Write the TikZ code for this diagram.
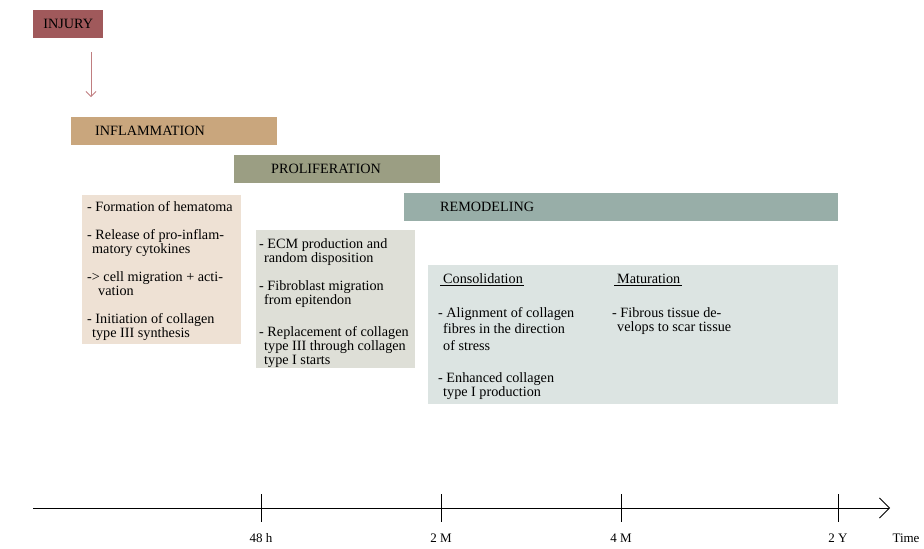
\documentclass[tikz,border=0pt]{standalone}
\usepackage{fontspec}
\setmainfont{Liberation Serif}
\usetikzlibrary{arrows.meta}
\definecolor{injc}{HTML}{A0595B}
\definecolor{inflc}{HTML}{C9A67D}
\definecolor{prolc}{HTML}{9B9E83}
\definecolor{remoc}{HTML}{98AEA8}
\definecolor{inflbg}{HTML}{EEE1D4}
\definecolor{prolbg}{HTML}{DEDFD7}
\definecolor{remobg}{HTML}{DCE4E2}
\definecolor{arrc}{HTML}{C07E80}
\begin{document}
\begin{tikzpicture}[x=1pt,y=-1pt,
  every node/.style={font=\fontsize{14.2}{14}\selectfont, inner sep=0pt, text=black},
  rectbox/.style={anchor=north west, minimum width=#1, draw=none},
  phaselabel/.style={anchor=west},
  content/.style={anchor=north west, align=left},
  tick/.style={line width=0.8pt, black},
  ticklabel/.style={anchor=base, font=\fontsize{13}{14}\selectfont}
]
\useasboundingbox (0,0) rectangle (924,549);

% INJURY
\node[rectbox=70pt, minimum height=28pt, fill=injc] (injury) at (33,10) {};
\node (injurytxt) at (injury.center) {INJURY};
\coordinate (arrS) at (91,52);
\coordinate (arrE) at (91,97);
\draw[arrc, line width=0.8pt, -{Straight Barb[length=5pt,width=10pt]}] (arrS) -- (arrE);

% phase bars
\node[rectbox=206pt, minimum height=28pt, fill=inflc] (infl) at (71,117) {};
\node[phaselabel] (infltxt) at (95,131) {INFLAMMATION};
\node[rectbox=206pt, minimum height=28pt, fill=prolc] (prol) at (234,155) {};
\node[phaselabel] (proltxt) at (271,169) {PROLIFERATION};
\node[rectbox=434pt, minimum height=28pt, fill=remoc] (remo) at (404,193) {};
\node[phaselabel] (remotxt) at (440,207) {REMODELING};

% content boxes
\node[rectbox=159pt, minimum height=149pt, fill=inflbg] (inflbox) at (82,195) {};
\node[content] (infltext) at (87,201) {- Formation of hematoma\\[14pt]
- Release of pro-inflam-\\
\hspace*{5pt}matory cytokines\\[14pt]
-> cell migration + acti-\\
\hspace*{11pt}vation\\[14pt]
- Initiation of collagen\\
\hspace*{5pt}type III synthesis};

\node[rectbox=159pt, minimum height=138pt, fill=prolbg] (prolbox) at (256,230) {};
\node[content] (proltext) at (259,238) {- ECM production and\\
\hspace*{5pt}random disposition\\[14pt]
- Fibroblast migration\\
\hspace*{5pt}from epitendon\\[18pt]
- Replacement of collagen\\
\hspace*{5pt}type III through collagen\\
\hspace*{5pt}type I starts};

\node[rectbox=410pt, minimum height=139pt, fill=remobg] (remobox) at (428,265) {};
\node[anchor=base west] (cons) at (443,283) {Consolidation};
\draw[line width=0.6pt] ([xshift=-3pt,yshift=-2.5pt]cons.base west) -- ([xshift=1pt,yshift=-2.5pt]cons.base east);
\node[anchor=base west] (matu) at (617,283) {Maturation};
\draw[line width=0.6pt] ([xshift=-3pt,yshift=-2.5pt]matu.base west) -- ([xshift=1pt,yshift=-2.5pt]matu.base east);
\node[content] (constext) at (438,307) {- Alignment of collagen\\[2.5pt]
\hspace*{5pt}fibres in the direction\\[2.5pt]
\hspace*{5pt}of stress\\[18pt]
- Enhanced collagen\\
\hspace*{5pt}type I production};
\node[content] (matutext) at (612,307) {- Fibrous tissue de-\\
\hspace*{5pt}velops to scar tissue};

% timeline
\coordinate (t0) at (33,508);
\coordinate (t1) at (890,508);
\draw[line width=0.8pt, -{Straight Barb[length=10pt,width=20pt]}] (t0) -- (t1);
\foreach \x/\lab/\nm in {261/48 h/ta, 441/2 M/tb, 621/4 M/tc, 838/2 Y/td}{
  \coordinate (\nm top) at (\x,494);
  \coordinate (\nm bot) at (\x,522);
  \draw[tick] (\nm top) -- (\nm bot);
  \node[ticklabel] (\nm lab) at (\x,542) {\lab};
}
\node[ticklabel] (timelab) at (906,542) {Time};
\end{tikzpicture}
\end{document}
